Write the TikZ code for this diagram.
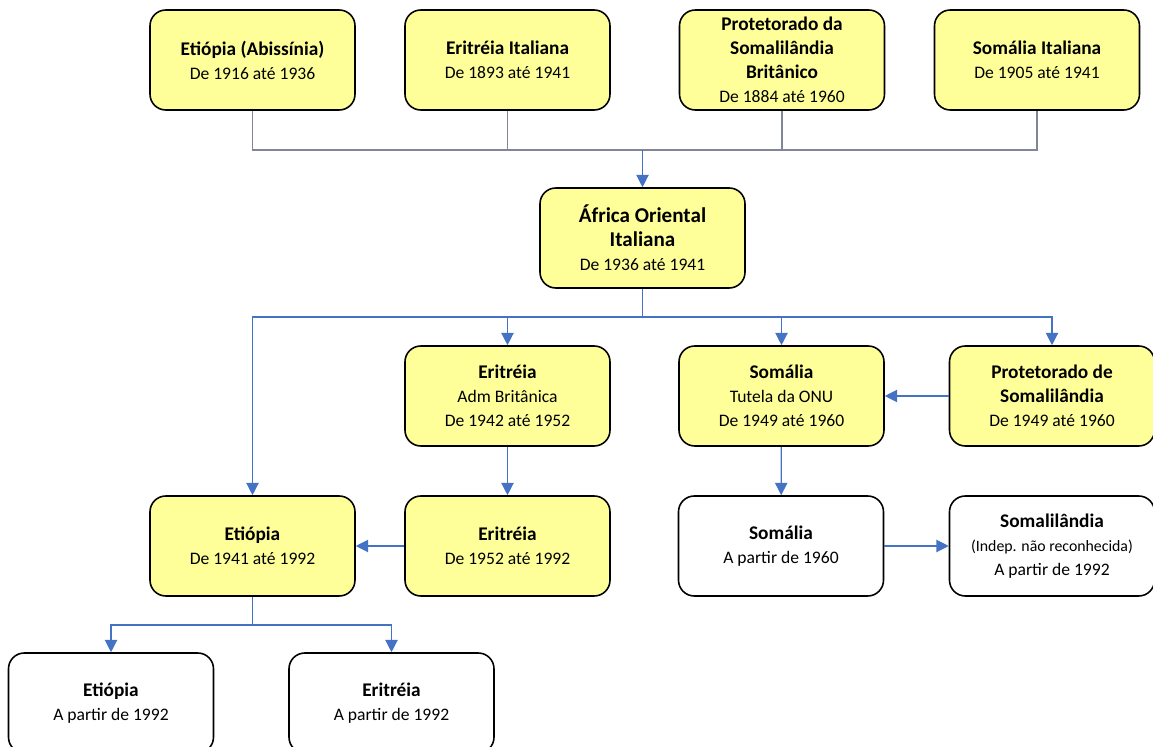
\documentclass[tikz,border=0pt]{standalone}
\usepackage{fontspec}
\setmainfont{Carlito}
\usepackage{tikz}
\usetikzlibrary{positioning,arrows.meta}
\definecolor{boxyellow}{RGB}{255,255,153}
\definecolor{linkblue}{RGB}{68,114,196}
\definecolor{feedgrey}{RGB}{128,134,150}
\newcommand{\hd}[1]{{\fontsize{11}{13.6}\selectfont\bfseries #1}}

\begin{document}
\begin{tikzpicture}[
  entity/.style={draw, line width=0.9pt, rounded corners=9pt, fill=boxyellow,
    minimum width=4.1cm, minimum height=2cm, align=center,
    font=\fontsize{10}{13.6}\selectfont},
  state/.style={entity, fill=white},
  feed/.style={draw=feedgrey, line width=0.6pt},
  link/.style={draw=linkblue, line width=0.7pt, -{Triangle[length=7pt, width=7pt]}}
]
  \useasboundingbox (0,0) rectangle (23.06,14.92);

  % Top row: territories before 1936
  \node[entity] (abis) at (5.05,13.72) {\hd{Etiópia (Abissínia)}\\De 1916 até 1936};
  \node[entity] (eriit) at (10.15,13.72) {\hd{Eritréia Italiana}\\De 1893 até 1941};
  \node[entity] (protbr) at (15.64,13.72) {\hd{Protetorado da}\\\hd{Somalilândia}\\\hd{Britânico}\\De 1884 até 1960};
  \node[entity] (somit) at (20.74,13.72) {\hd{Somália Italiana}\\De 1905 até 1941};

  % Centre: Africa Oriental Italiana
  \node[entity] (aoi) at (12.85,10.16) {\textbf{\large África Oriental}\\\textbf{\large Italiana}\\De 1936 até 1941};

  % Second row
  \node[entity] (eriadm) at (10.15,7.0) {\hd{Eritréia}\\Adm Britânica\\De 1942 até 1952};
  \node[entity] (somonu) at (15.63,7.0) {\hd{Somália}\\Tutela da ONU\\De 1949 até 1960};
  \node[entity] (protso) at (21.04,7.0) {\hd{Protetorado de}\\\hd{Somalilândia}\\De 1949 até 1960};

  % Third row
  \node[entity] (etio) at (5.05,4.0) {\hd{Etiópia}\\De 1941 até 1992};
  \node[entity] (erifed) at (10.15,4.0) {\hd{Eritréia}\\De 1952 até 1992};
  \node[state] (somind) at (15.62,4.0) {\hd{Somália}\\A partir de 1960};
  \node[state] (somland) at (21.04,4.0) {\hd{Somalilândia}\\{\fontsize{9}{12}\selectfont(Indep. não reconhecida)}\\A partir de 1992};

  % Bottom row
  \node[state] (etind) at (2.22,0.86) {\hd{Etiópia}\\A partir de 1992};
  \node[state] (erind) at (7.83,0.86) {\hd{Eritréia}\\A partir de 1992};

  % Junction points
  \coordinate (topbus) at (12.85,11.92);
  \coordinate (midbus) at (12.85,8.58);
  \coordinate (lowbus) at (5.05,2.42);

  % Top feed lines
  \draw[feed] (abis.south) |- (topbus) -| (somit.south);
  \draw[feed] (eriit.south) -- (eriit.south |- topbus);
  \draw[feed] (protbr.south) -- (protbr.south |- topbus);
  \draw[link] (topbus) -- (aoi.north);

  % Split of Africa Oriental Italiana
  \draw[draw=linkblue, line width=0.7pt] (aoi.south) -- (midbus);
  \draw[link] (midbus) -| (etio.north);
  \draw[link] (midbus) -| (eriadm.north);
  \draw[link] (midbus) -| (somonu.north);
  \draw[link] (midbus) -| (protso.north);

  % Later changes
  \draw[link] (eriadm) -- (erifed);
  \draw[link] (erifed) -- (etio);
  \draw[link] (protso) -- (somonu);
  \draw[link] (somonu) -- (somind);
  \draw[link] (somind) -- (somland);

  % Split of 1992
  \draw[draw=linkblue, line width=0.7pt] (etio.south) -- (lowbus);
  \draw[link] (lowbus) -| (etind.north);
  \draw[link] (lowbus) -| (erind.north);
\end{tikzpicture}
\end{document}
